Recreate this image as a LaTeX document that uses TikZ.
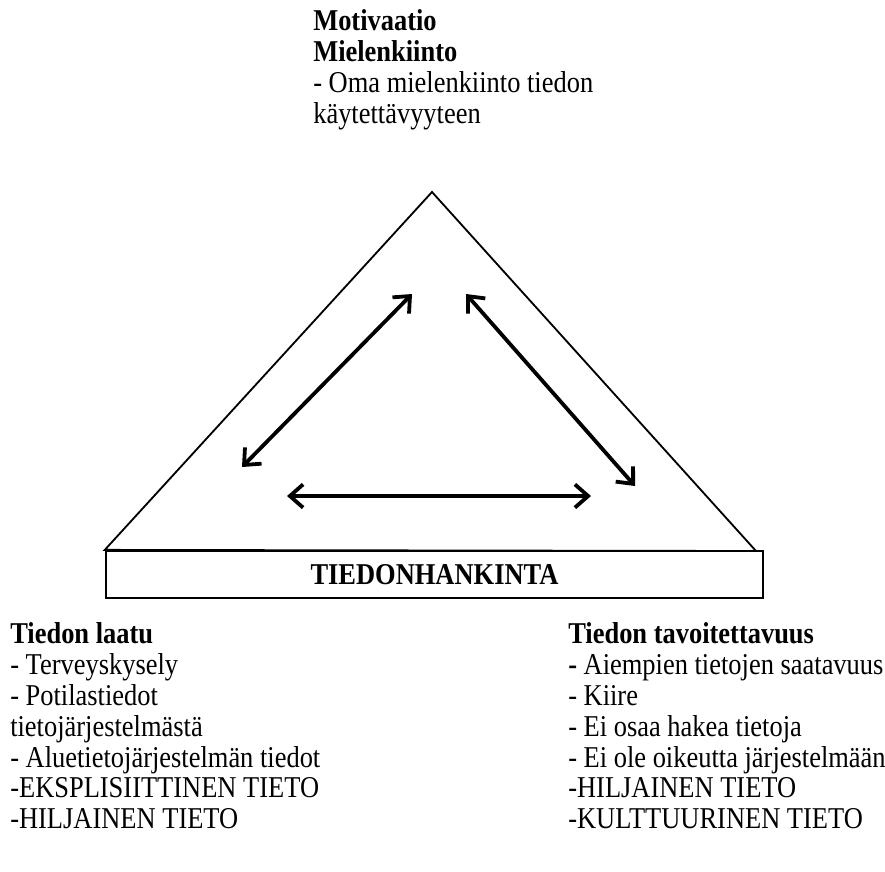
\documentclass[tikz,border=0pt]{standalone}
\usepackage{fontspec}
\setmainfont{Liberation Serif}[FakeStretch=0.875]
\usetikzlibrary{arrows.meta}
\tikzset{>={Straight Barb[length=3.3mm,width=5.8mm]}}
\tikzstyle{pyramid}=[draw=black,line width=1.3pt]
\tikzstyle{basebox}=[rectangle,draw=black,line width=1.6pt,minimum width=16.425cm,minimum height=1.175cm,inner sep=0pt,font=\fontsize{21.5}{22}\selectfont\bfseries]
\tikzstyle{block}=[anchor=north west,align=left,inner sep=0pt,font=\fontsize{21.5}{22}\selectfont]
\tikzstyle{link}=[<->,line width=2.7pt]

\begin{document}
\begin{tikzpicture}[x=0.025cm,y=-0.025cm]
	\useasboundingbox (0,0) rectangle (885,871);

	\node[basebox] (frame) at (434.5,574.5) {TIEDONHANKINTA};
	\coordinate (apex) at (432,192);
	\coordinate (corner) at (756,551);
	\draw[pyramid] (apex) -- (frame.north west) -- (corner) -- cycle;

	\coordinate (l1) at (242,467);
	\coordinate (l2) at (412,294);
	\coordinate (r1) at (466,294);
	\coordinate (r2) at (635,486);
	\coordinate (b1) at (287,496);
	\coordinate (b2) at (591,496);
	\draw[link] (l1) -- (l2);
	\draw[link] (r1) -- (r2);
	\draw[link] (b1) -- (b2);

	\node[block] (motivation) at (313,9) {\textbf{Motivaatio}\\\textbf{Mielenkiinto}\\- Oma mielenkiinto tiedon\\käytettävyyteen};
	\node[block] (quality) at (10,622) {\textbf{Tiedon laatu}\\- Terveyskysely\\- Potilastiedot\\tietojärjestelmästä\\- Aluetietojärjestelmän tiedot\\-EKSPLISIITTINEN TIETO\\-HILJAINEN TIETO};
	\node[block] (reach) at (568,622) {\textbf{Tiedon tavoitettavuus}\\\textbf{-} Aiempien tietojen saatavuus\\- Kiire\\- Ei osaa hakea tietoja\\- Ei ole oikeutta järjestelmään\\-HILJAINEN TIETO\\-KULTTUURINEN TIETO};
\end{tikzpicture}
\end{document}
